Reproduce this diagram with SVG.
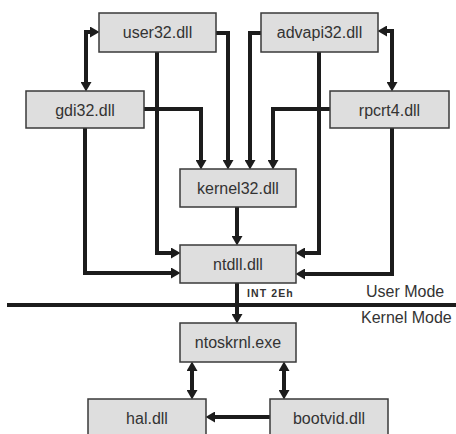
<svg xmlns="http://www.w3.org/2000/svg" width="456" height="434" viewBox="0 0 456 434">
<style>
.box{fill:#dedede;stroke:#3a3a3a;stroke-width:1.5}
.lbl{font-family:"Liberation Sans",Arial,sans-serif;font-size:16px;fill:#333;text-anchor:middle}
.mode{font-family:"Liberation Sans",Arial,sans-serif;font-size:16px;fill:#333}
.c{fill:none;stroke:#1c1c1c;stroke-width:4;marker-end:url(#ah)}
.b{marker-start:url(#ah)}
</style>
<defs>
<marker id="ah" markerUnits="userSpaceOnUse" markerWidth="10" markerHeight="11" refX="4" refY="5.5" orient="auto-start-reverse">
<path d="M0,0 L9.5,5.5 L0,11 z" fill="#1c1c1c"/>
</marker>
</defs>
<rect x="0" y="0" width="456" height="434" fill="#fff"/>
<g id="connectors">
<path class="c b" d="M94,32 H86 V86"/>
<path class="c b" d="M383,31 H392 V86"/>
<path class="c" d="M216,33 H228 V164"/>
<path class="c" d="M261,33 H250 V164"/>
<path class="c" d="M144,109 H201 V164"/>
<path class="c" d="M330,109 H273 V164"/>
<path class="c" d="M157,52 V253 H175"/>
<path class="c" d="M85,128 V273 H175"/>
<path class="c" d="M319,52 V253 H301"/>
<path class="c" d="M392,128 V274 H301"/>
<path class="c" d="M237,207 V240"/>
<path class="c" d="M237,283 V318"/>
<path class="c b" d="M192,367 V394"/>
<path class="c b" d="M284,367 V394"/>
<path class="c" d="M270,417 H211"/>
</g>
<line id="divider" x1="7" y1="305" x2="456" y2="305" stroke="#1c1c1c" stroke-width="4"/>
<text x="247" y="297" font-family="'Liberation Sans',Arial,sans-serif" font-size="10.5" font-weight="bold" letter-spacing="1.1" fill="#333">INT 2Eh</text>
<text class="mode" x="366" y="297">User Mode</text>
<text class="mode" x="361" y="323">Kernel Mode</text>
<g id="user32"><rect class="box" x="99" y="13" width="117" height="39"/><text class="lbl" x="157.5" y="38">user32.dll</text></g>
<g id="advapi32"><rect class="box" x="261" y="13" width="117" height="39"/><text class="lbl" x="319.5" y="38">advapi32.dll</text></g>
<g id="gdi32"><rect class="box" x="26" y="91" width="118" height="37"/><text class="lbl" x="85" y="115.5">gdi32.dll</text></g>
<g id="rpcrt4"><rect class="box" x="330" y="91" width="119" height="37"/><text class="lbl" x="389.5" y="115.5">rpcrt4.dll</text></g>
<g id="kernel32"><rect class="box" x="180" y="169" width="116" height="38"/><text class="lbl" x="238" y="194">kernel32.dll</text></g>
<g id="ntdll"><rect class="box" x="180" y="245" width="116" height="38"/><text class="lbl" x="238" y="270">ntdll.dll</text></g>
<g id="ntoskrnl"><rect class="box" x="180" y="323" width="116" height="39"/><text class="lbl" x="238" y="348">ntoskrnl.exe</text></g>
<g id="hal"><rect class="box" x="88" y="399" width="118" height="42"/><text class="lbl" x="147" y="424">hal.dll</text></g>
<g id="bootvid"><rect class="box" x="270" y="399" width="118" height="42"/><text class="lbl" x="329" y="424">bootvid.dll</text></g>
</svg>
